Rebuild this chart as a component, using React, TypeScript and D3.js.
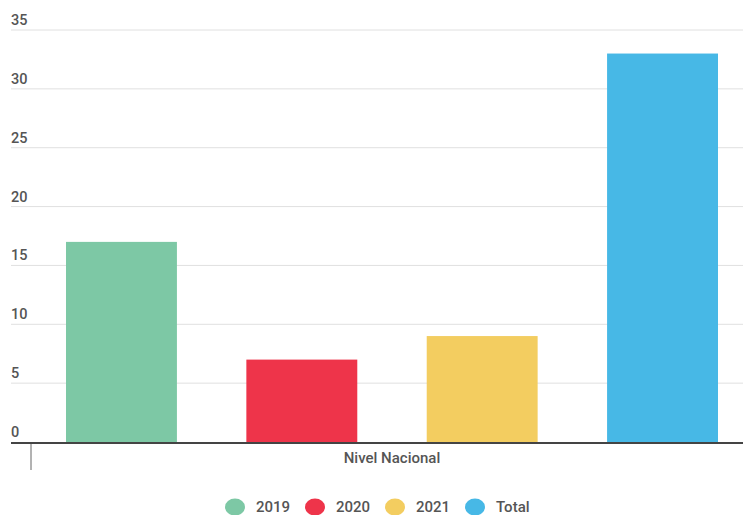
import React from "react";
import * as d3 from "d3";

const series = ["2019", "2020", "2021", "Total"];
const values = [17, 7, 9, 33];
const colors = ["#7DC8A5", "#EE344A", "#F3CD60", "#47B8E6"];
const yTicks = [0, 5, 10, 15, 20, 25, 30, 35];
const category = "Nivel Nacional";

export default function App() {
  const W = 743, H = 515;
  const y = d3.scaleLinear().domain([0, 35]).range([442, 30]);
  const x = d3.scaleBand<string>().domain(series).range([66, 718]).paddingInner(0.385).paddingOuter(0);
  const font = "Roboto, 'Noto Sans', sans-serif";
  const legendX = [235, 315, 395, 475];
  return (
    <svg width={W} height={H} style={{ position: "absolute", left: 0, top: 0 }} fontFamily={font}>
      {yTicks.map((t) => (
        <g key={t}>
          {t > 0 && <line x1={11} x2={743} y1={y(t)} y2={y(t)} stroke="#e0e0e0" strokeWidth={1} />}
          <text x={11} y={y(t) - 5} fontSize={14.5} fontWeight={500} fill="#555">{t}</text>
        </g>
      ))}
      {series.map((s, i) => (
        <rect key={s} x={x(s)} y={y(values[i])} width={x.bandwidth()} height={y(0) - y(values[i])} fill={colors[i]} />
      ))}
      <line x1={11} x2={743} y1={y(0) + 1} y2={y(0) + 1} stroke="#444" strokeWidth={2} />
      <line x1={31} x2={31} y1={y(0) + 2} y2={470} stroke="#666" strokeWidth={1} />
      <text x={392} y={463} textAnchor="middle" fontSize={15} fontWeight={500} fill="#555">{category}</text>
      {series.map((s, i) => (
        <g key={s}>
          <ellipse cx={legendX[i]} cy={507} rx={10} ry={8.5} fill={colors[i]} />
          <text x={legendX[i] + 21} y={507} dominantBaseline="central" fontSize={15} fontWeight={500} fill="#555">{s}</text>
        </g>
      ))}
    </svg>
  );
}
